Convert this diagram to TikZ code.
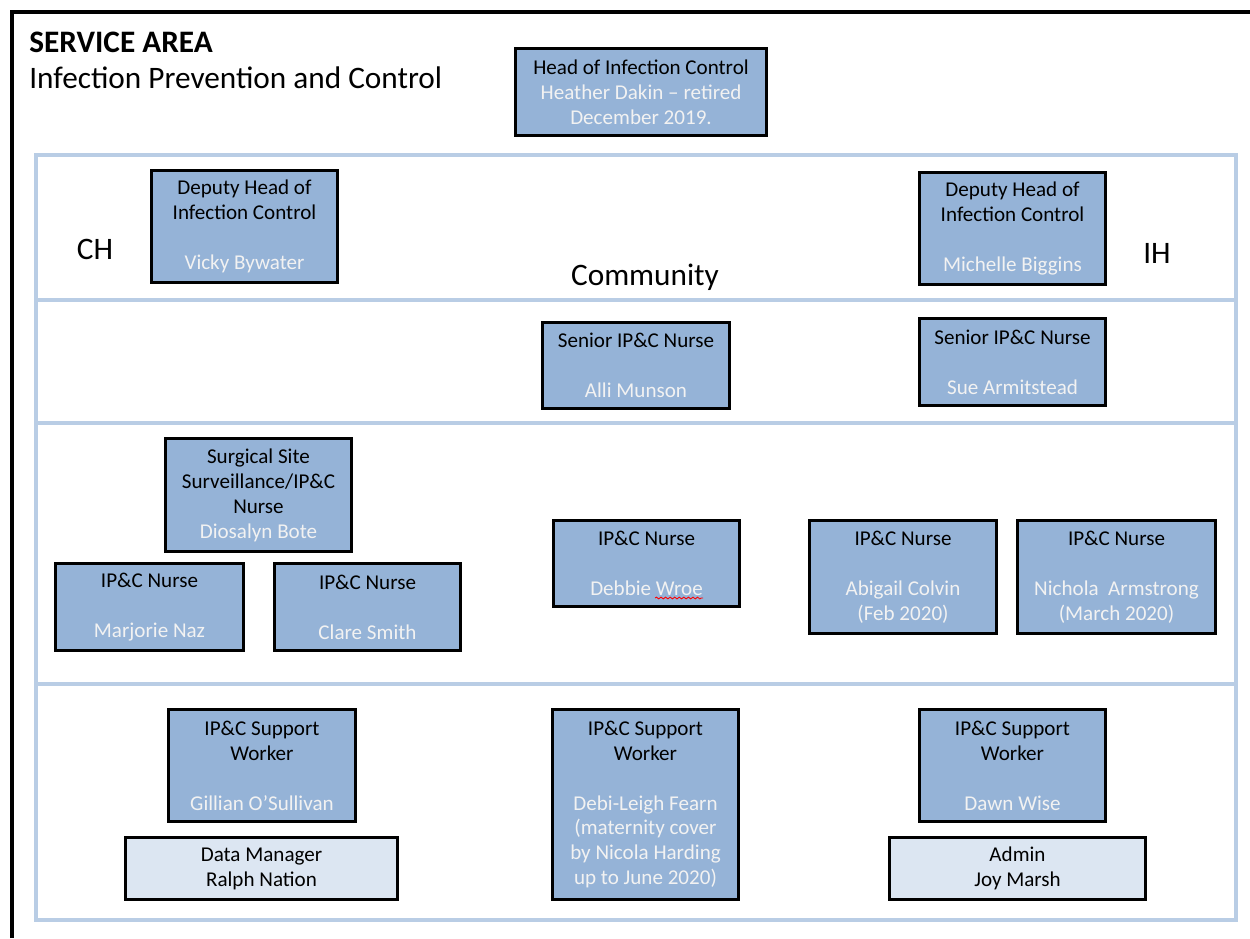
\documentclass[tikz,border=0pt]{standalone}
\usepackage{fontspec}
\setmainfont{Carlito}
\usetikzlibrary{decorations.pathmorphing}
\definecolor{boxblue}{HTML}{95B3D7}
\definecolor{paleblue}{HTML}{DCE6F2}
\definecolor{bandblue}{HTML}{B9CDE5}
\definecolor{namewhite}{HTML}{F2F2F2}
\newcommand{\nm}[1]{\textcolor{namewhite}{#1}}
\newcommand{\gap}{\\[14.2pt]}
\begin{document}
\begin{tikzpicture}[x=0.02cm, y=-0.02cm,
  every node/.style={font=\fontsize{12}{14.2}\selectfont},
  post/.style={draw=black, line width=1.7pt, fill=boxblue, align=center, inner sep=0pt},
  helper/.style={post, fill=paleblue},
  band/.style={draw=bandblue, line width=2.3pt},
  big/.style={font=\fontsize{17.8}{21}\selectfont}]
  \useasboundingbox (0,0) rectangle (1250,938);
  % outer frame, only left and top edges are visible
  \draw[line width=2.3pt] (12,938) -- (12,12) -- (1250,12);
  \node[big, anchor=base west, inner sep=0pt] (area) at (29,52) {\bfseries SERVICE AREA};
  \node[big, anchor=base west, inner sep=0pt] (unit) at (29,88) {Infection Prevention and Control};
  \node[post, minimum width=5.02cm, minimum height=1.74cm] (head) at (641,92) {Head of Infection Control\\\nm{Heather Dakin – retired}\\\nm{December 2019.}};
  % bands
  \draw[band] (36,155) rectangle (1236,300);
  \draw[band] (36,300) rectangle (1236,423);
  \draw[band] (36,423) rectangle (1236,684);
  \draw[band] (36,684) rectangle (1236,920);
  % row 1
  \node[big, anchor=base] (ch) at (95,259) {CH};
  \node[big, anchor=base] (ih) at (1157,263) {IH};
  \node[big, anchor=base] (comm) at (645,285) {Community};
  \node[post, minimum width=3.72cm, minimum height=2.24cm] (depch) at (244.5,226.5) {Deputy Head of\\Infection Control\gap\nm{Vicky Bywater}};
  \node[post, minimum width=3.72cm, minimum height=2.24cm] (depih) at (1012.5,228.5) {Deputy Head of\\Infection Control\gap\nm{Michelle Biggins}};
  % row 2
  \node[post, minimum width=3.74cm, minimum height=1.72cm] (sen1) at (636,365.5) {Senior IP\&C Nurse\gap\nm{Alli Munson}};
  \node[post, minimum width=3.72cm, minimum height=1.74cm] (sen2) at (1012.5,362) {Senior IP\&C Nurse\gap\nm{Sue Armitstead}};
  % row 3
  \node[post, minimum width=3.72cm, minimum height=2.26cm] (ssi) at (258.5,495) {Surgical Site\\Surveillance/IP\&C\\Nurse\\\nm{Diosalyn Bote}};
  \node[post, minimum width=3.76cm, minimum height=1.74cm] (naz) at (149.5,607) {IP\&C Nurse\gap\nm{Marjorie Naz}};
  \node[post, minimum width=3.72cm, minimum height=1.74cm] (smith) at (367.5,607) {IP\&C Nurse\gap\nm{Clare Smith}};
  \node[post, minimum width=3.72cm, minimum height=1.72cm] (wroe) at (646.5,563.5) {IP\&C Nurse\gap\nm{Debbie Wroe}};
  \node[post, minimum width=3.74cm, minimum height=2.26cm] (colvin) at (903,577) {IP\&C Nurse\gap\nm{Abigail Colvin}\\\nm{(Feb 2020)}};
  \node[post, minimum width=3.96cm, minimum height=2.26cm] (armst) at (1116.5,577) {IP\&C Nurse\gap\nm{Nichola\ \ Armstrong}\\\nm{(March 2020)}};
  \draw[red, line width=0.5pt, decorate, decoration={snake, amplitude=0.5pt, segment length=2.6pt}] (655,598) -- (703,598);
  % row 4
  \node[post, minimum width=3.74cm, minimum height=2.24cm] (sup1) at (262,765.5) {IP\&C Support\\Worker\gap\nm{Gillian O’Sullivan}};
  \node[helper, minimum width=5.44cm, minimum height=1.24cm] (data) at (261.5,868.5) {Data Manager\\Ralph Nation};
  \node[post, minimum width=3.72cm, minimum height=3.8cm] (sup2) at (645.5,804.5) {IP\&C Support\\Worker\gap\nm{Debi-Leigh Fearn}\\\nm{(maternity cover}\\\nm{by Nicola Harding}\\\nm{up to June 2020)}};
  \node[post, minimum width=3.72cm, minimum height=2.24cm] (sup3) at (1012.5,765.5) {IP\&C Support\\Worker\gap\nm{Dawn Wise}};
  \node[helper, minimum width=5.12cm, minimum height=1.24cm] (admin) at (1017.5,868.5) {Admin\\Joy Marsh};
\end{tikzpicture}
\end{document}
